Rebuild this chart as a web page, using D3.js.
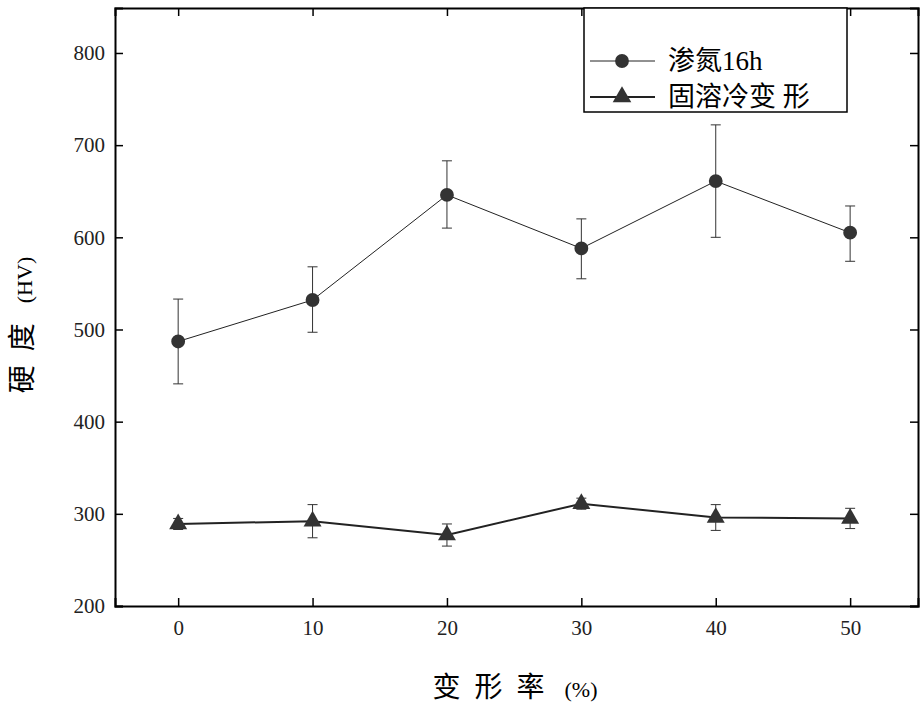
<!DOCTYPE html>
<meta charset="utf-8">
<head>
<script src="https://d3js.org/d3.v7.min.js"></script>
</head>
<body style="margin:0;background:#fff">
<script>
var rates = [0, 10, 20, 30, 40, 50];
var nitrided = [487, 532, 646, 588, 661, 605];
var nitridedLo = [441, 497, 610, 555, 600, 574];
var nitridedHi = [533, 568, 683, 620, 722, 634];
var cold = [289, 292, 277, 311, 296, 295];
var coldLo = [283, 274, 265, 305, 282, 284];
var coldHi = [295, 310, 289, 317, 310, 306];
var xTicks = [0, 10, 20, 30, 40, 50];
var yTicks = [200, 300, 400, 500, 600, 700, 800];

var W = 923, H = 711, L = 115, R = 918, T = 8, B = 606;
var FONT = "'Liberation Serif', 'Noto Sans CJK SC', serif";
var svg = d3.select("body").append("svg").attr("width", W).attr("height", H)
    .style("font-family", FONT);
var x = d3.scaleLinear().domain([-4.7, 55.05]).range([L, R]);
var y = d3.scaleLinear().domain([200, 848.8]).range([B, T]);

svg.append("g").attr("transform", "translate(0," + B + ")")
    .call(d3.axisBottom(x).tickValues(xTicks).tickSize(-8).tickPadding(14))
    .call(g => g.selectAll("text").attr("font-size", 21).attr("font-family", FONT).attr("fill", "#222"));
svg.append("g").attr("transform", "translate(" + L + ",0)")
    .call(d3.axisLeft(y).tickValues(yTicks).tickSize(-8).tickPadding(10))
    .call(g => g.selectAll("text").attr("font-size", 21).attr("font-family", FONT).attr("fill", "#222"));
svg.append("g").attr("transform", "translate(0," + T + ")")
    .call(d3.axisTop(x).tickValues(xTicks).tickSize(-8).tickFormat(""));
svg.append("g").attr("transform", "translate(" + R + ",0)")
    .call(d3.axisRight(y).tickValues(yTicks).tickSize(-8).tickFormat(""));
svg.selectAll(".domain").attr("stroke", "#000").attr("stroke-width", 2);
svg.selectAll(".tick line").attr("stroke-width", 1.5);

function series(vals, lo, hi, lw, shape) {
    var g = svg.append("g");
    g.selectAll(".eb").data(rates).enter().append("path")
        .attr("d", (r, i) => "M" + x(r) + "," + y(lo[i]) + "V" + y(hi[i]) +
            "M" + (x(r) - 5) + "," + y(lo[i]) + "h10M" + (x(r) - 5) + "," + y(hi[i]) + "h10")
        .attr("stroke", "#333").attr("fill", "none").attr("stroke-width", 1);
    g.append("path").datum(vals)
        .attr("d", d3.line().x((v, i) => x(rates[i])).y(v => y(v)))
        .attr("fill", "none").attr("stroke", "#222").attr("stroke-width", lw);
    g.selectAll(".m").data(vals).enter().append("path")
        .attr("transform", (v, i) => "translate(" + x(rates[i]) + "," + y(v) + ")")
        .attr("d", d3.symbol().type(shape).size(shape === d3.symbolCircle ? 150 : 140))
        .attr("fill", "#333");
}
series(nitrided, nitridedLo, nitridedHi, 1, d3.symbolCircle);
series(cold, coldLo, coldHi, 2, d3.symbolTriangle);

// legend
var lg = svg.append("g");
lg.append("rect").attr("x", 584).attr("y", T).attr("width", 263).attr("height", 104)
    .attr("fill", "#fff").attr("stroke", "#000").attr("stroke-width", 1.5);
[["渗氮16h", d3.symbolCircle, 61, 1], ["固溶冷变 形", d3.symbolTriangle, 97, 2]].forEach(function (e) {
    lg.append("line").attr("x1", 590).attr("x2", 655).attr("y1", e[2]).attr("y2", e[2])
        .attr("stroke", "#222").attr("stroke-width", e[3]);
    lg.append("path").attr("transform", "translate(622," + e[2] + ")")
        .attr("d", d3.symbol().type(e[1]).size(150)).attr("fill", "#333");
    lg.append("text").attr("x", 668).attr("y", e[2] + 9).attr("font-size", 27).text(e[0]);
});

svg.append("text").attr("x", 515).attr("y", 697).attr("text-anchor", "middle").attr("font-size", 28)
    .attr("letter-spacing", 14).text("变形率")
    .append("tspan").attr("font-size", 22).attr("letter-spacing", 0).attr("dx", 6).text("(%)");
svg.append("text").attr("transform", "translate(32,325) rotate(-90)").attr("text-anchor", "middle")
    .attr("font-size", 28).attr("letter-spacing", 14).text("硬度")
    .append("tspan").attr("font-size", 22).attr("letter-spacing", 0).attr("dx", 6).text("(HV)");
</script>
</body>
